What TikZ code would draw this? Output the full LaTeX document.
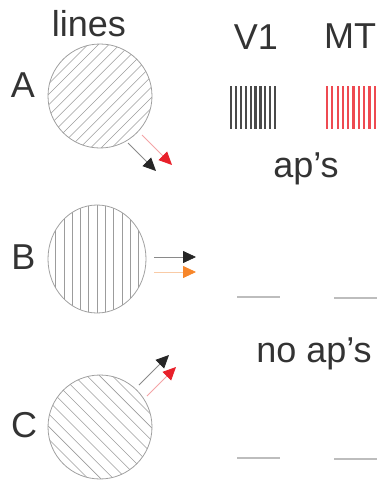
\documentclass[tikz,border=0pt]{standalone}
\usepackage{fontspec}
\setmainfont{Liberation Sans}
\usetikzlibrary{arrows.meta,calc,shapes.geometric}
\definecolor{txt}{HTML}{333333}
\definecolor{rimgray}{HTML}{A0A0A0}
\definecolor{hatchgray}{HTML}{9C9C9C}
\definecolor{headblack}{HTML}{262626}
\definecolor{linegray}{HTML}{8A8A8A}
\definecolor{headred}{HTML}{E8202A}
\definecolor{linered}{HTML}{F4A3A6}
\definecolor{headorange}{HTML}{F7862A}
\definecolor{lineorange}{HTML}{F9CBA6}
\definecolor{vbar}{HTML}{4A4A4A}
\definecolor{mbar}{HTML}{EE4A51}
\definecolor{flatgray}{HTML}{BDBDBD}
\begin{document}
\begin{tikzpicture}[x=1pt,y=-1pt,
  lbl/.style={text=txt,font=\fontsize{36}{40}\selectfont,inner sep=0pt,anchor=base},
  disc/.style={draw=rimgray,line width=0.8pt,inner sep=0pt},
  hatch/.style={draw=hatchgray,line width=0.55pt},
  arrk/.style={draw=linegray,line width=0.8pt,-{Triangle[length=13pt,width=12pt,color=headblack]}},
  arrr/.style={draw=linered,line width=0.8pt,-{Triangle[length=13pt,width=12pt,color=headred]}},
  arro/.style={draw=lineorange,line width=0.8pt,-{Triangle[length=13pt,width=12pt,color=headorange]}},
  vbarst/.style={draw=vbar,line width=2.2pt},
  mbarst/.style={draw=mbar,line width=2.2pt},
  flat/.style={draw=flatgray,line width=1.4pt}]
\useasboundingbox (0,0) rectangle (377,480);

% labels
\node[lbl] (tlines) at (89,36) {lines};
\node[lbl] (tA) at (23,97) {A};
\node[lbl] (tB) at (23.5,269) {B};
\node[lbl] (tC) at (24,437) {C};
\node[lbl] (tV1) at (256,49) {V1};
\node[lbl] (tMT) at (350,48) {MT};
\node[lbl] (taps) at (306,177) {ap’s};
\node[lbl] (tnoaps) at (314,362) {no ap’s};

% disc A (/ hatching)
\node[disc,circle,minimum size=104pt,path picture={
  \foreach \k in {-8,...,8}
    \draw[hatch] ($(path picture bounding box.center)+({\k*5.3+50},{\k*5.3-50})$)
      -- ($(path picture bounding box.center)+({\k*5.3-50},{\k*5.3+50})$);
}] (discA) at (100,96) {};

% disc B (vertical hatching)
\node[disc,ellipse,minimum width=98pt,minimum height=108pt,path picture={
  \foreach \k in {-6,...,6}
    \draw[hatch] ($(path picture bounding box.center)+({\k*8.3},-60)$)
      -- ($(path picture bounding box.center)+({\k*8.3},60)$);
}] (discB) at (97,259) {};

% disc C (\ hatching)
\node[disc,circle,minimum size=104pt,path picture={
  \foreach \k in {-7,...,7}
    \draw[hatch] ($(path picture bounding box.center)+({\k*6.36+50},{-\k*6.36+50})$)
      -- ($(path picture bounding box.center)+({\k*6.36-50},{-\k*6.36-50})$);
}] (discC) at (100,427) {};

% arrows A
\coordinate (aks) at (128,143); \coordinate (ake) at (156,171);
\coordinate (ars) at (142,135); \coordinate (are) at (172,165);
\draw[arrr] (ars) -- (are);
\draw[arrk] (aks) -- (ake);

% arrows B
\coordinate (bks) at (154,257); \coordinate (bke) at (196,257);
\coordinate (bos) at (154,272); \coordinate (boe) at (196,272);
\draw[arrk] (bks) -- (bke);
\draw[arro] (bos) -- (boe);

% arrows C
\coordinate (cks) at (139,385); \coordinate (cke) at (169,355);
\coordinate (crs) at (147,396); \coordinate (cre) at (176,367);
\draw[arrk] (cks) -- (cke);
\draw[arrr] (crs) -- (cre);

% spike trains
\foreach \k in {0,...,9}
  \draw[vbarst] ({231+4.9*\k},86) -- ({231+4.9*\k},129);
\foreach \k in {0,...,9}
  \draw[mbarst] ({327+5.3*\k},86) -- ({327+5.3*\k},129);

% flat lines
\draw[flat] (237,297) -- (280,297);
\draw[flat] (334,298) -- (377,298);
\draw[flat] (237,458) -- (280,458);
\draw[flat] (334,459) -- (377,459);
\end{tikzpicture}
\end{document}
